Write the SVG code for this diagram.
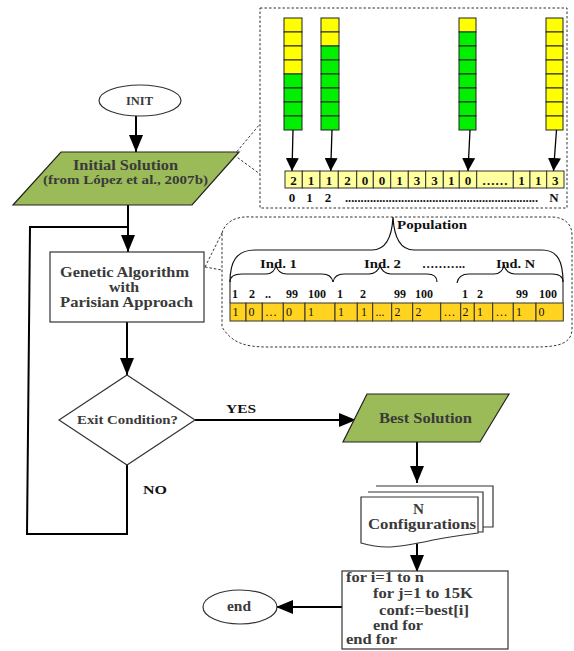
<svg xmlns="http://www.w3.org/2000/svg" width="574" height="651" viewBox="0 0 574 651">
<style>
.t{font-family:"Liberation Serif",serif;font-weight:bold;fill:#3a3a3a}
.k{font-family:"Liberation Serif",serif;font-weight:bold;fill:#111}
.r{font-family:"Liberation Serif",serif;fill:#111;font-size:12px}
.ln{fill:none;stroke:#000;stroke-width:2}
.dash{fill:none;stroke:#333;stroke-width:1;stroke-dasharray:2.5,2}
.y{fill:#FFFF00;stroke:#222;stroke-width:1}
.g{fill:#00F000;stroke:#222;stroke-width:1}
.pc{fill:#FFFF9E;stroke:#333;stroke-width:1}
.bc{fill:#FFD320;stroke:#333;stroke-width:1}
.par{fill:#9BBB59;stroke:#222;stroke-width:1.2}
.box{fill:#fff;stroke:#333;stroke-width:1.2}
.br{fill:none;stroke:#111;stroke-width:1.2}
</style>
<defs>
<marker id="ah" viewBox="0 0 17 14" refX="17" refY="7" markerWidth="17" markerHeight="14" markerUnits="userSpaceOnUse" orient="auto"><path d="M0,0 L17,7 L0,14 z" fill="#000"/></marker>
<marker id="as" viewBox="0 0 13 13" refX="13" refY="6.5" markerWidth="13" markerHeight="13" markerUnits="userSpaceOnUse" orient="auto"><path d="M0,0 L13,6.5 L0,13 z" fill="#000"/></marker>
</defs>
<rect width="574" height="651" fill="#fff"/>
<g id="encoding-detail">
<rect class="dash" x="260" y="8" width="307" height="200"/>
<g id="col1">
<rect class="y" x="284" y="18" width="18" height="14"/><rect class="y" x="284" y="32" width="18" height="14"/><rect class="y" x="284" y="46" width="18" height="14"/><rect class="y" x="284" y="60" width="18" height="14"/>
<rect class="g" x="284" y="74" width="18" height="14"/><rect class="g" x="284" y="88" width="18" height="14"/><rect class="g" x="284" y="102" width="18" height="14"/><rect class="g" x="284" y="116" width="18" height="14"/>
</g>
<g id="col2">
<rect class="y" x="321" y="18" width="18" height="14"/><rect class="y" x="321" y="32" width="18" height="14"/>
<rect class="g" x="321" y="46" width="18" height="14"/><rect class="g" x="321" y="60" width="18" height="14"/><rect class="g" x="321" y="74" width="18" height="14"/><rect class="g" x="321" y="88" width="18" height="14"/><rect class="g" x="321" y="102" width="18" height="14"/><rect class="g" x="321" y="116" width="18" height="14"/>
</g>
<g id="col3">
<rect class="y" x="459" y="18" width="17" height="14"/>
<rect class="g" x="459" y="32" width="17" height="14"/><rect class="g" x="459" y="46" width="17" height="14"/><rect class="g" x="459" y="60" width="17" height="14"/><rect class="g" x="459" y="74" width="17" height="14"/><rect class="g" x="459" y="88" width="17" height="14"/><rect class="g" x="459" y="102" width="17" height="14"/><rect class="g" x="459" y="116" width="17" height="14"/>
</g>
<g id="col4">
<rect class="y" x="546" y="18" width="17" height="14"/><rect class="y" x="546" y="32" width="17" height="14"/><rect class="y" x="546" y="46" width="17" height="14"/><rect class="y" x="546" y="60" width="17" height="14"/><rect class="y" x="546" y="74" width="17" height="14"/><rect class="y" x="546" y="88" width="17" height="14"/><rect class="y" x="546" y="102" width="17" height="14"/><rect class="y" x="546" y="116" width="17" height="14"/>
</g>
<g id="solution-bar">
<rect class="pc" x="285" y="171" width="17.3" height="17"/>
<rect class="pc" x="302.3" y="171" width="17.7" height="17"/>
<rect class="pc" x="320" y="171" width="18.3" height="17"/>
<rect class="pc" x="338.3" y="171" width="18.4" height="17"/>
<rect class="pc" x="356.7" y="171" width="16.6" height="17"/>
<rect class="pc" x="373.3" y="171" width="17.4" height="17"/>
<rect class="pc" x="390.7" y="171" width="17.6" height="17"/>
<rect class="pc" x="408.3" y="171" width="17.4" height="17"/>
<rect class="pc" x="425.7" y="171" width="17.6" height="17"/>
<rect class="pc" x="443.3" y="171" width="16" height="17"/>
<rect class="pc" x="459.3" y="171" width="17.4" height="17"/>
<rect class="pc" x="476.7" y="171" width="36.6" height="17"/>
<rect class="pc" x="513.3" y="171" width="16.7" height="17"/>
<rect class="pc" x="530" y="171" width="16.7" height="17"/>
<rect class="pc" x="546.7" y="171" width="17.3" height="17"/>
<g class="k" font-size="13" text-anchor="middle">
<text x="293.6" y="185">2</text><text x="311.1" y="185">1</text><text x="329.1" y="185">1</text><text x="347.5" y="185">2</text><text x="365" y="185">0</text><text x="382" y="185">0</text><text x="399.5" y="185">1</text><text x="417" y="185">3</text><text x="434.5" y="185">3</text><text x="451.3" y="185">1</text><text x="468" y="185">0</text><text x="495" y="185">……</text><text x="521.6" y="185">1</text><text x="538.3" y="185">1</text><text x="555.3" y="185">3</text>
<text x="292" y="202">0</text><text x="309.5" y="202">1</text><text x="328" y="202">2</text><text x="554" y="202">N</text>
</g>
<text class="k" font-size="13" x="345" y="202" textLength="193" lengthAdjust="spacingAndGlyphs">..............................................................</text>
</g>
</g>
<g id="population-detail">
<path class="dash" d="M222 233 C 226 220, 238 216, 252 217 L 553 217 C 566 218, 572 225, 572 235 L 572 330 C 571 343, 560 347, 535 347 L 268 347 C 245 347, 232 343, 222 327 Z"/>
<path class="br" d="M230 282 C 230 262, 236 250, 255 250 L 372 250 C 386 250, 392 236, 393 217 C 394 236, 400 250, 414 250 L 542 250 C 558 250, 563 262, 563 282"/>
<path class="br" d="M230 282 C 230 276, 234 274, 242 274 L 266 274 C 272 274, 275 270, 276 265 C 277 270, 280 274, 287 274 L 322 274 C 329 274, 332 277, 333 282"/>
<path class="br" d="M333 282 C 334 277, 337 274, 344 274 L 369 274 C 375 274, 379 270, 380 265 C 381 270, 385 274, 391 274 L 427 274 C 434 274, 437 277, 437 282"/>
<path class="br" d="M457 283 C 458 277, 462 274, 469 274 L 494 274 C 500 274, 503 270, 504 265 C 505 270, 509 274, 515 274 L 552 274 C 559 274, 563 277, 563 282"/>
<text class="k" font-size="13" x="397" y="229" textLength="70" lengthAdjust="spacingAndGlyphs">Population</text>
<text class="k" font-size="13" x="260" y="268" textLength="37" lengthAdjust="spacingAndGlyphs">Ind. 1</text>
<text class="k" font-size="13" x="364" y="268" textLength="37" lengthAdjust="spacingAndGlyphs">Ind. 2</text>
<text class="k" font-size="13" x="422" y="268" textLength="43" lengthAdjust="spacingAndGlyphs">………..</text>
<text class="k" font-size="13" x="496" y="268" textLength="39" lengthAdjust="spacingAndGlyphs">Ind. N</text>
<path d="M230 282 V303 M563 282 V303" stroke="#888" stroke-width="2"/>
<g class="k" font-size="12">
<text x="232" y="298">1</text><text x="249" y="298">2</text><text x="265" y="298">..</text><text x="286" y="298">99</text><text x="308" y="298">100</text><text x="337" y="298">1</text><text x="360" y="298">2</text><text x="394" y="298">99</text><text x="415" y="298">100</text><text x="462" y="298">1</text><text x="477" y="298">2</text><text x="516" y="298">99</text><text x="539" y="298">100</text>
</g>
<rect class="bc" x="230" y="303" width="16" height="18"/>
<rect class="bc" x="246" y="303" width="16.3" height="18"/>
<rect class="bc" x="262.3" y="303" width="21" height="18"/>
<rect class="bc" x="283.3" y="303" width="21.7" height="18"/>
<rect class="bc" x="305" y="303" width="30" height="18"/>
<rect class="bc" x="335" y="303" width="22.3" height="18"/>
<rect class="bc" x="357.3" y="303" width="15.4" height="18"/>
<rect class="bc" x="372.7" y="303" width="19" height="18"/>
<rect class="bc" x="391.7" y="303" width="21" height="18"/>
<rect class="bc" x="412.7" y="303" width="28" height="18"/>
<rect class="bc" x="440.7" y="303" width="20" height="18"/>
<rect class="bc" x="460.7" y="303" width="13.6" height="18"/>
<rect class="bc" x="474.3" y="303" width="18.4" height="18"/>
<rect class="bc" x="492.7" y="303" width="20.6" height="18"/>
<rect class="bc" x="513.3" y="303" width="22.7" height="18"/>
<rect class="bc" x="536" y="303" width="27.3" height="18"/>
<g class="r">
<text x="232.5" y="316">1</text><text x="248.5" y="316">0</text><text x="265" y="316">…</text><text x="286" y="316">0</text><text x="308" y="316">1</text><text x="338" y="316">1</text><text x="361" y="316">1</text><text x="375.5" y="316">...</text><text x="394.5" y="316">2</text><text x="415.5" y="316">2</text><text x="443.5" y="316">…</text><text x="462.5" y="316">2</text><text x="477" y="316">1</text><text x="495.5" y="316">…</text><text x="516" y="316">1</text><text x="538.5" y="316">0</text>
</g>
<path class="dash" d="M205 267 L222 233 M205 267 L222 270"/>
<path class="dash" d="M234 155 L260 124 M234 155 L260 174"/>
</g>
<g id="connectors">
<path class="ln" d="M136 116 V152" marker-end="url(#ah)"/>
<path class="ln" d="M128 205 V252" marker-end="url(#ah)"/>
<path class="ln" d="M127 465 V534 H27 L30 227 H128"/>
<path class="ln" d="M127 322 V375" marker-end="url(#ah)"/>
<path class="ln" d="M195 420 H356" marker-end="url(#ah)"/>
<path class="ln" d="M417 442 V483" marker-end="url(#ah)"/>
<path class="ln" d="M417 543 V572" marker-end="url(#ah)"/>
<path class="ln" d="M342 607 H276" marker-end="url(#ah)"/>
<path d="M293 130 L292 171 M332 130 L330.7 171 M470 130 L468 171 M556.5 130 L553.5 171" stroke="#000" stroke-width="1.3" fill="none"/>
<path d="M293 130 L292 171" stroke="none" fill="none" marker-end="url(#as)"/>
<path d="M332 130 L330.7 171" stroke="none" fill="none" marker-end="url(#as)"/>
<path d="M470 130 L468 171" stroke="none" fill="none" marker-end="url(#as)"/>
<path d="M556.5 130 L553.5 171" stroke="none" fill="none" marker-end="url(#as)"/>
<text class="k" font-size="13" x="226" y="413" textLength="30" lengthAdjust="spacingAndGlyphs">YES</text>
<text class="k" font-size="13" x="143" y="494" textLength="24" lengthAdjust="spacingAndGlyphs">NO</text>
</g>
<g id="init">
<ellipse cx="140" cy="100.5" rx="41" ry="15.5" class="box"/>
<text class="t" font-size="12" x="126" y="105" textLength="27" lengthAdjust="spacingAndGlyphs">INIT</text>
</g>
<g id="initial-solution">
<polygon class="par" points="61,152 239,152 192,205 13,205"/>
<text class="t" font-size="14" x="73" y="170" textLength="105" lengthAdjust="spacingAndGlyphs">Initial Solution</text>
<text class="t" font-size="13" x="43" y="184" textLength="165" lengthAdjust="spacingAndGlyphs">(from López et al., 2007b)</text>
</g>
<g id="genetic-algorithm">
<rect class="box" x="50" y="252" width="154" height="70"/>
<text class="t" font-size="14" x="60" y="277" textLength="129" lengthAdjust="spacingAndGlyphs">Genetic Algorithm</text>
<text class="t" font-size="14" x="109" y="292" textLength="30" lengthAdjust="spacingAndGlyphs">with</text>
<text class="t" font-size="14" x="60" y="307" textLength="133" lengthAdjust="spacingAndGlyphs">Parisian Approach</text>
</g>
<g id="exit-condition">
<polygon class="box" points="127,375 195,420 127,465 59,420"/>
<text class="t" font-size="12.5" x="77" y="424" textLength="101" lengthAdjust="spacingAndGlyphs">Exit Condition?</text>
</g>
<g id="best-solution">
<polygon class="par" points="367,394 509,394 480,442 343,442"/>
<text class="t" font-size="14" x="379" y="423" textLength="93" lengthAdjust="spacingAndGlyphs">Best Solution</text>
</g>
<g id="configurations">
<path class="box" d="M376 486 H493 V527 H483"/>
<path class="box" d="M368 492 H483 V532 H478"/>
<path class="box" d="M361 497 H478 V533 C 462 535, 448 537, 433 540 C 415 544, 400 547, 387 547 C 376 547, 368 545, 361 543 Z"/>
<text class="t" font-size="14" x="413" y="514" textLength="11" lengthAdjust="spacingAndGlyphs">N</text>
<text class="t" font-size="14" x="368" y="529" textLength="108" lengthAdjust="spacingAndGlyphs">Configurations</text>
</g>
<g id="loop-block">
<rect class="box" x="342" y="571" width="166" height="78"/>
<text class="t" font-size="14" x="346" y="582" textLength="78" lengthAdjust="spacingAndGlyphs">for i=1 to n</text>
<text class="t" font-size="14" x="373" y="598" textLength="100" lengthAdjust="spacingAndGlyphs">for j=1 to 15K</text>
<text class="t" font-size="14" x="379" y="615" textLength="90" lengthAdjust="spacingAndGlyphs">conf:=best[i]</text>
<text class="t" font-size="14" x="373" y="630" textLength="50" lengthAdjust="spacingAndGlyphs">end for</text>
<text class="t" font-size="14" x="346" y="644" textLength="51" lengthAdjust="spacingAndGlyphs">end for</text>
</g>
<g id="end">
<ellipse cx="240" cy="607" rx="37" ry="17" class="box"/>
<text class="t" font-size="14" x="227" y="611" textLength="24" lengthAdjust="spacingAndGlyphs">end</text>
</g>
</svg>
